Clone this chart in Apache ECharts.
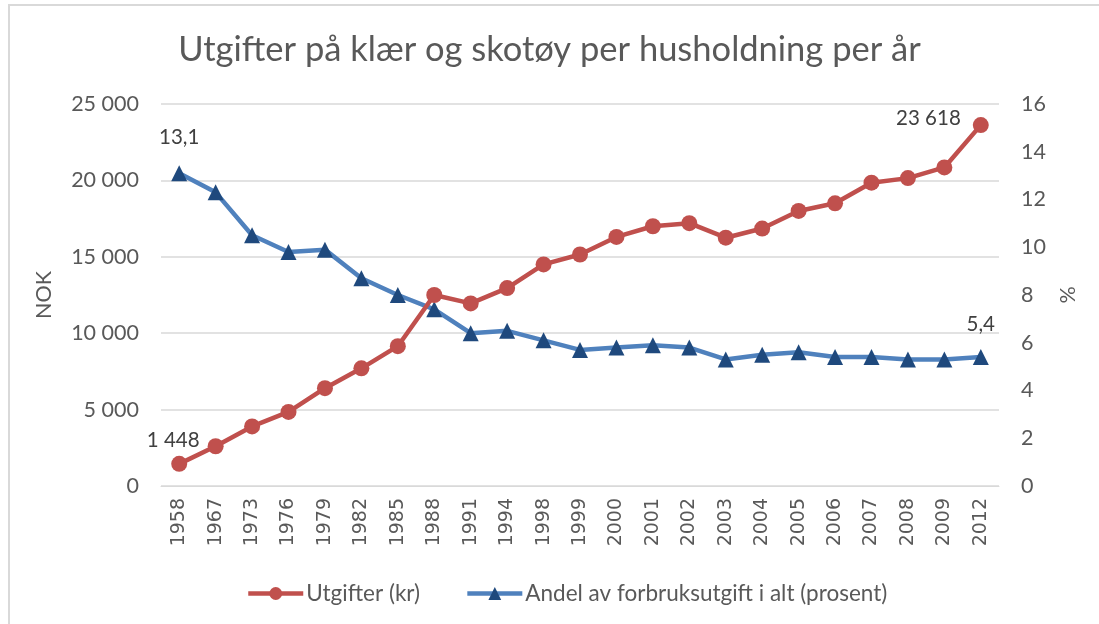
<!DOCTYPE html>
<html>
<head>
<meta charset="utf-8">
<script src="https://cdn.jsdelivr.net/npm/echarts@6/dist/echarts.min.js"></script>
<style>
  html, body { margin: 0; padding: 0; background: #fff; }
  #chart_main { width: 1099px; height: 624px; }
</style>
</head>
<body>
<div id="chart_main"></div>
<script>
let years = ['1958', '1967', '1973', '1976', '1979', '1982', '1985', '1988', '1991', '1994', '1998',
    '1999', '2000', '2001', '2002', '2003', '2004', '2005', '2006', '2007', '2008', '2009', '2012'];

// Utgifter (kr)
let utgifter = [1448, 2600, 3900, 4850, 6400, 7700, 9150, 12500, 11950, 12950, 14500,
    15150, 16300, 17000, 17200, 16250, 16850, 18000, 18500, 19850, 20150, 20850, 23618];

// Andel av forbruksutgift i alt (prosent)
let andel = [13.1, 12.3, 10.5, 9.8, 9.9, 8.7, 8.0, 7.4, 6.4, 6.5, 6.1,
    5.7, 5.8, 5.9, 5.8, 5.3, 5.5, 5.6, 5.4, 5.4, 5.3, 5.3, 5.4];

let font = 'Lato, "Open Sans", sans-serif';
let grey = '#595959';

function nok(v) {
    return String(v).replace(/\B(?=(\d{3})+(?!\d))/g, ' ');
}

function pct(v) {
    return String(v.toFixed(1)).replace('.', ',');
}

let last = years.length - 1;

let redData = utgifter.map(function (v, i) {
    if (i === 0) {
        return { value: v, label: { show: true, position: 'top', offset: [-6, 0] } };
    }
    if (i === last) {
        return { value: v, label: { show: true, position: 'left', distance: 12, offset: [0, -7] } };
    }
    return v;
});

let blueData = andel.map(function (v, i) {
    if (i === 0) {
        return { value: v, label: { show: true, position: 'top', offset: [0, -12] } };
    }
    if (i === last) {
        return { value: v, label: { show: true, position: 'top', offset: [0, -9] } };
    }
    return v;
});

let chart_main = echarts.init(document.getElementById('chart_main'));

let option = {
    backgroundColor: '#fff',
    animation: false,
    graphic: [{
        type: 'rect',
        shape: { x: 9, y: 5, width: 1100, height: 700 },
        style: { fill: 'none', stroke: '#d9d9d9', lineWidth: 2 }
    }],
    title: {
        text: 'Utgifter på klær og skotøy per husholdning per år',
        left: 'center',
        top: 27,
        textStyle: { fontFamily: font, fontSize: 34.5, fontWeight: 'normal', color: grey }
    },
    legend: {
        top: 577,
        left: 241,
        itemWidth: 55,
        itemHeight: 16,
        itemGap: 45,
        lineStyle: { width: 4.5 },
        textStyle: { fontFamily: font, fontSize: 22.5, color: grey, padding: [0, 0, 0, -2] },
        data: ['Utgifter (kr)', 'Andel av forbruksutgift i alt (prosent)']
    },
    grid: { left: 161, right: 100, top: 104, bottom: 138 },
    xAxis: {
        type: 'category',
        data: years,
        axisTick: { show: false },
        axisLine: { lineStyle: { color: '#d9d9d9', width: 1 } },
        axisLabel: { rotate: 90, margin: 12, color: grey, fontFamily: 'DejaVu Sans', fontSize: 19 }
    },
    yAxis: [{
        type: 'value',
        min: 0,
        max: 25000,
        interval: 5000,
        name: 'NOK',
        nameLocation: 'middle',
        nameGap: 106,
        nameTextStyle: { fontFamily: font, fontSize: 21.5, color: grey },
        axisLabel: { margin: 22, color: grey, fontFamily: font, fontSize: 21.5, formatter: nok },
        splitLine: { lineStyle: { color: '#d9d9d9', width: 1.5 } }
    }, {
        type: 'value',
        min: 0,
        max: 16,
        interval: 2,
        name: '%',
        nameLocation: 'middle',
        nameGap: 56,
        nameTextStyle: { fontFamily: font, fontSize: 21.5, color: grey },
        axisLabel: { margin: 22, color: grey, fontFamily: font, fontSize: 21.5 },
        splitLine: { show: false }
    }],
    series: [{
        name: 'Utgifter (kr)',
        type: 'line',
        yAxisIndex: 0,
        data: redData,
        symbol: 'circle',
        symbolSize: 16,
        itemStyle: { color: '#C0504D' },
        lineStyle: { color: '#C0504D', width: 4.5 },
        label: {
            fontFamily: font, fontSize: 20.5, color: '#404040',
            formatter: function (p) { return nok(p.value); }
        },
        z: 3
    }, {
        name: 'Andel av forbruksutgift i alt (prosent)',
        type: 'line',
        yAxisIndex: 1,
        data: blueData,
        symbol: 'triangle',
        symbolSize: 16,
        itemStyle: { color: '#1F497D' },
        lineStyle: { color: '#4F81BD', width: 4.5 },
        label: {
            fontFamily: font, fontSize: 20.5, color: '#404040',
            formatter: function (p) { return pct(p.value); }
        },
        z: 2
    }]
};

chart_main.setOption(option);
</script>
</body>
</html>
